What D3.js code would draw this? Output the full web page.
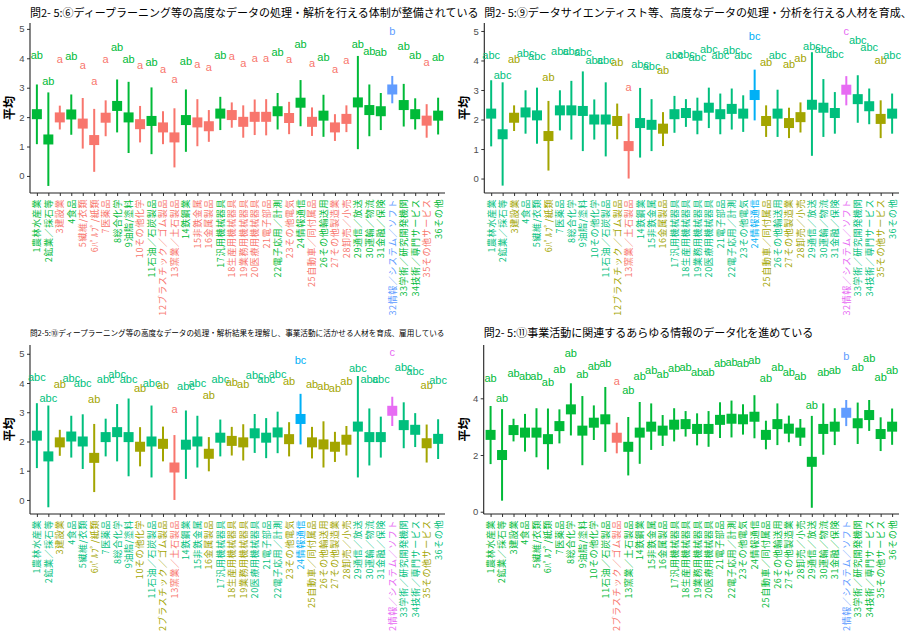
<!DOCTYPE html>
<html><head><meta charset="utf-8">
<script src="https://cdn.jsdelivr.net/npm/d3@7"></script>
<style>
html,body{margin:0;padding:0;background:#fff;}
svg{display:block;}
</style></head>
<body>
<svg id="chart" width="913" height="632"></svg>
<script>
const categories = ["1農林水産業","2鉱業／採石等","3建設業","4食品","5繊維/衣類","6ﾊﾟﾙﾌﾟ/紙類","7医薬品","8総合化学","9油脂/塗料","10その他化学","11石油／石炭製品","12プラスチック／ゴム製品","13窯業／土石製品","14鉄鋼業","15非鉄金属","16金属製品","17汎用機械器具","18生産用機械器具","19業務用機械器具","20医療用機械器具","21電子部品","22電子応用／計測","23その他電気","24情報通信","25自動車／同付属品","26その他輸送用","27その他製造業","28卸売／小売","29通信／放送","30運輸／物流","31金融／保険","32情報／システム／ソフト","33学術／研究開発機関","34技術／専門サービス","35その他サービス","36その他"];

const titles = [
 "問2- 5:⑥ディープラーニング等の高度なデータの処理・解析を行える体制が整備されている",
 "問2- 5:⑨データサイエンティスト等、高度なデータの処理・分析を行える人材を育成、",
 "問2-5:⑩ディープラーニング等の高度なデータの処理・解析結果を理解し、事業活動に活かせる人材を育成、雇用している",
 "問2- 5:⑪事業活動に関連するあらゆる情報のデータ化を進めている"
];
const yAxisTitle = "平均";

const groups3 = ["a","ab","b"];
const groups5 = ["a","ab","abc","bc","c"];
const ticksA = [0,1,2,3,4,5];
const ticksB = [0,2,4];

const p1Mean = [2.10,1.24,1.99,2.09,1.78,1.22,1.98,2.38,1.99,1.76,1.87,1.65,1.31,1.90,1.82,1.69,2.12,2.07,1.84,2.01,2.01,2.20,1.97,2.49,1.84,2.05,1.65,1.94,2.50,2.24,2.20,2.94,2.41,2.10,1.88,2.05];
const p1Hi = [3.11,2.84,2.39,2.77,2.65,2.28,2.57,3.28,3.20,2.38,3.01,2.20,2.30,2.94,2.61,2.24,2.69,2.50,2.40,2.60,2.61,2.82,2.52,3.26,2.33,2.76,2.10,2.40,4.08,3.11,2.82,3.40,3.13,2.64,2.44,2.66];
const p1Lo = [1.08,-0.34,1.58,1.40,0.93,0.14,1.35,1.48,0.78,1.14,0.74,1.08,0.29,0.82,1.01,1.16,1.56,1.64,1.30,1.39,1.38,1.58,1.42,1.69,1.36,1.33,1.19,1.49,0.91,1.35,1.56,2.47,1.68,1.58,1.30,1.41];
const p1Grp = ["ab","ab","a","ab","a","a","a","ab","ab","a","ab","a","a","ab","a","a","ab","a","a","a","a","ab","a","ab","a","ab","a","a","ab","ab","ab","b","ab","ab","a","ab"];

const p2Mean = [2.20,1.50,2.06,2.24,2.14,1.44,2.31,2.31,2.29,2.00,2.00,1.95,1.10,1.88,1.82,1.69,2.18,2.22,2.13,2.40,2.18,2.36,2.20,2.83,1.95,2.20,1.88,2.08,2.50,2.40,2.22,3.01,2.69,2.45,2.02,2.20];
const p2Hi = [3.33,3.26,2.48,2.99,3.08,2.63,2.99,3.31,3.63,2.68,3.26,2.54,2.20,3.07,2.69,2.25,2.80,2.69,2.74,3.08,2.88,3.05,2.82,3.69,2.48,3.01,2.40,2.58,4.28,3.37,2.93,3.47,3.50,3.05,2.65,2.88];
const p2Lo = [1.09,-0.24,1.61,1.52,1.18,0.27,1.63,1.32,0.93,1.32,0.75,1.33,0.00,0.71,0.93,1.10,1.55,1.75,1.50,1.71,1.50,1.66,1.58,1.97,1.41,1.41,1.37,1.56,0.77,1.41,1.52,2.48,1.89,1.84,1.37,1.52];
const p2Grp = ["abc","abc","ab","abc","abc","ab","abc","abc","abc","abc","abc","ab","a","abc","abc","ab","abc","abc","abc","abc","abc","abc","abc","bc","ab","abc","ab","ab","abc","abc","abc","c","abc","abc","ab","abc"];

const p3Mean = [2.20,1.49,1.97,2.17,2.00,1.44,2.15,2.32,2.15,1.82,2.00,1.92,1.11,1.89,2.00,1.58,2.13,2.02,1.97,2.28,2.13,2.31,2.08,2.77,1.97,1.90,1.82,2.06,2.51,2.15,2.15,3.05,2.56,2.40,1.94,2.09];
const p3Hi = [3.31,3.23,2.40,2.88,2.93,2.60,2.78,3.28,3.47,2.49,3.23,2.51,2.22,3.06,2.88,2.15,2.75,2.50,2.59,2.94,2.80,3.02,2.66,3.63,2.50,2.69,2.33,2.53,4.24,3.13,2.85,3.53,3.34,2.97,2.58,2.76];
const p3Lo = [1.09,-0.25,1.51,1.45,1.06,0.27,1.49,1.32,0.81,1.15,0.77,1.32,0.00,0.72,1.11,0.98,1.49,1.52,1.35,1.61,1.43,1.60,1.49,1.90,1.42,1.11,1.30,1.52,0.77,1.18,1.45,2.53,1.77,1.81,1.28,1.40];
const p3Grp = ["abc","abc","ab","abc","abc","ab","abc","abc","abc","ab","abc","ab","a","abc","abc","ab","abc","ab","ab","abc","abc","abc","ab","bc","ab","ab","ab","ab","abc","abc","abc","c","abc","abc","ab","abc"];

const p4Mean = [2.71,2.00,2.88,2.79,2.79,2.56,3.02,3.61,2.86,3.14,3.26,2.61,2.29,2.79,3.00,2.86,3.07,3.09,2.92,2.92,3.24,3.28,3.26,3.35,2.71,3.09,2.93,2.79,1.76,2.92,3.00,3.49,3.12,3.41,2.74,3.00];
const p4Hi = [3.73,3.62,3.28,3.45,3.65,3.64,3.61,4.53,4.08,3.75,4.40,3.14,3.34,3.87,3.82,3.41,3.65,3.55,3.47,3.55,3.86,3.92,3.79,4.11,3.21,3.82,3.39,3.27,3.38,3.82,3.65,3.94,3.85,3.94,3.33,3.64];
const p4Lo = [1.68,0.39,2.48,2.12,1.92,1.49,2.41,2.69,1.64,2.53,2.11,2.06,1.28,1.69,2.18,2.32,2.48,2.65,2.34,2.29,2.60,2.62,2.72,2.59,2.20,2.35,2.45,2.32,0.14,2.01,2.35,3.02,2.39,2.85,2.14,2.36];
const p4Grp = ["ab","ab","ab","ab","ab","ab","ab","ab","ab","ab","ab","a","ab","ab","ab","ab","ab","ab","ab","ab","ab","ab","ab","ab","ab","ab","ab","ab","ab","ab","ab","b","ab","ab","ab","ab"];

const letterOffset = 2;

const pal3 = ["#F8766D","#00BA38","#619CFF"];
const pal5 = ["#F8766D","#A3A500","#00BF7D","#00B0F6","#E76BF3"];

const panels = [
 {title:titles[0], tsize:11, tY:16.5, mean:p1Mean, hi:p1Hi, lo:p1Lo, grp:p1Grp, groups:groups3, pal:pal3, x0:30, x1:445, top:23, bottom:193, dom:[-0.58,5.2], ticks:ticksA, ylabX:9},
 {title:titles[1], tsize:11, tY:16.5, mean:p2Mean, hi:p2Hi, lo:p2Lo, grp:p2Grp, groups:groups5, pal:pal5, x0:484.3, x1:899, top:23, bottom:193, dom:[-0.49,5.27], ticks:ticksA, ylabX:464},
 {title:titles[2], tsize:7.6, tY:336, mean:p3Mean, hi:p3Hi, lo:p3Lo, grp:p3Grp, groups:groups5, pal:pal5, x0:30, x1:445, top:345, bottom:514, dom:[-0.48,5.3], ticks:ticksA, ylabX:9},
 {title:titles[3], tsize:11, tY:337, mean:p4Mean, hi:p4Hi, lo:p4Lo, grp:p4Grp, groups:groups3, pal:pal3, x0:483.7, x1:899, top:345, bottom:514, dom:[-0.08,5.88], ticks:ticksB, ylabX:464}
];

const svg = d3.select("#chart");
const FONT_JP = "'Noto Sans CJK JP','Noto Sans',sans-serif";
const FONT_L = "'Liberation Sans',Arial,sans-serif";

panels.forEach(p => {
  const g = svg.append("g");
  const x = d3.scaleLinear().domain([0.4, categories.length + 0.6]).range([p.x0, p.x1]);
  const y = d3.scaleLinear().domain(p.dom).range([p.bottom, p.top]);
  const color = d3.scaleOrdinal().domain(p.groups).range(p.pal);
  const data = categories.map((c,i) => ({c, i:i+1, m:p.mean[i], hi:p.hi[i], lo:p.lo[i], g:p.grp[i]}));

  g.append("text").attr("x", p.x0).attr("y", p.tY)
    .attr("font-family", FONT_JP).attr("font-size", p.tsize).attr("fill", "#000")
    .text(p.title);

  const yAxis = d3.axisLeft(y).tickValues(p.ticks).tickSize(3).tickPadding(2.5).tickFormat(d3.format("d"));
  const ya = g.append("g").attr("transform", `translate(${p.x0},0)`).call(yAxis);
  ya.select(".domain").remove();
  ya.selectAll(".tick line").attr("stroke", "#333").attr("stroke-width", 1);
  ya.selectAll(".tick text").attr("fill", "#4d4d4d").attr("font-size", 9.5).attr("font-family", FONT_L);

  const xAxis = d3.axisBottom(x).tickValues(d3.range(1, categories.length + 1)).tickSize(3).tickFormat("");
  const xa = g.append("g").attr("transform", `translate(0,${p.bottom})`).call(xAxis);
  xa.select(".domain").remove();
  xa.selectAll(".tick line").attr("stroke", "#333").attr("stroke-width", 1);

  g.append("line").attr("x1", p.x0).attr("x2", p.x0).attr("y1", p.top).attr("y2", p.bottom)
    .attr("stroke", "#222").attr("stroke-width", 1.1);
  g.append("line").attr("x1", p.x0).attr("x2", p.x1).attr("y1", p.bottom).attr("y2", p.bottom)
    .attr("stroke", "#222").attr("stroke-width", 1.1);

  g.selectAll(".xl").data(data).enter().append("text")
    .attr("transform", d => `translate(${x(d.i)},${p.bottom + 6}) rotate(-90)`)
    .attr("text-anchor", "end").attr("dy", "0.38em")
    .attr("font-family", FONT_JP).attr("font-size", 9).attr("letter-spacing", "0.6px")
    .attr("fill", d => color(d.g))
    .text(d => d.c);

  g.append("text")
    .attr("transform", `translate(${p.ylabX + 5},${(p.top + p.bottom) / 2}) rotate(-90)`)
    .attr("text-anchor", "middle")
    .attr("font-family", FONT_JP).attr("font-size", 12).attr("font-weight", "bold").attr("fill", "#000")
    .text(yAxisTitle);

  g.selectAll(".eb").data(data).enter().append("line")
    .attr("x1", d => x(d.i)).attr("x2", d => x(d.i))
    .attr("y1", d => y(d.lo)).attr("y2", d => y(d.hi))
    .attr("stroke", d => color(d.g)).attr("stroke-width", 2);

  const s = 10;
  g.selectAll(".pt").data(data).enter().append("rect")
    .attr("x", d => x(d.i) - s/2).attr("y", d => y(d.m) - s/2)
    .attr("width", s).attr("height", s)
    .attr("fill", d => color(d.g));

  g.selectAll(".lt").data(data).enter().append("text")
    .attr("x", d => x(d.i)).attr("y", d => y(d.m + letterOffset))
    .attr("dy", "0.36em").attr("text-anchor", "middle")
    .attr("font-family", FONT_L).attr("font-size", 11)
    .attr("fill", d => color(d.g))
    .text(d => d.g);
});
</script>
</body></html>
